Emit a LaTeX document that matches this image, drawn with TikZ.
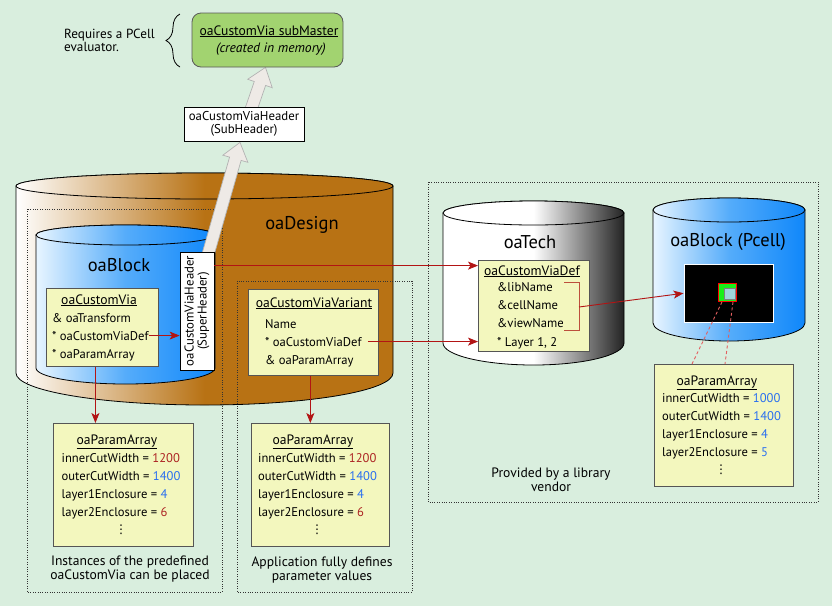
\documentclass[tikz,border=0pt]{standalone}
\usepackage{fontspec}
\setmainfont{PT Sans}
\newfontfamily\dotsfont{DejaVu Sans}
\usepackage{tikz}
\usetikzlibrary{arrows.meta,calc,decorations.pathreplacing}

\definecolor{bgmint}{RGB}{217,238,222}
\definecolor{dsgbrown}{RGB}{184,114,20}
\definecolor{blkblue}{RGB}{15,135,250}
\definecolor{blkmid}{RGB}{85,172,250}
\definecolor{blklight}{RGB}{232,245,255}
\definecolor{techdark}{RGB}{35,35,35}
\definecolor{boxyellow}{RGB}{243,247,190}
\definecolor{boxedge}{RGB}{85,85,85}
\definecolor{linkred}{RGB}{178,20,20}
\definecolor{brkred}{RGB}{188,80,60}
\definecolor{valred}{RGB}{172,35,35}
\definecolor{valblue}{RGB}{40,110,240}
\definecolor{mastergreen}{RGB}{162,211,112}
\definecolor{hollowgray}{RGB}{238,234,230}
\definecolor{viagreen}{RGB}{25,240,25}
\definecolor{cutcyan}{RGB}{160,212,220}
\definecolor{dashpink}{RGB}{228,95,95}

\pgfdeclarelayer{base}
\pgfdeclarelayer{mid}
\pgfsetlayers{base,mid,main}

\begin{document}
\begin{tikzpicture}[
    x=1pt, y=1pt,
    font=\fontsize{12.6}{14}\selectfont,
    yelbox/.style  ={draw=boxedge, line width=0.9pt, fill=boxyellow, anchor=north west, inner sep=0pt},
    hdrbox/.style  ={draw=black, line width=0.8pt, fill=white, inner sep=0pt, align=center, font=\fontsize{12.8}{13.5}\selectfont},
    field/.style   ={anchor=base west, inner sep=0pt},
    boxttl/.style  ={anchor=base, inner sep=0pt, font=\fontsize{13.6}{14}\selectfont},
    vdotsmark/.style={inner sep=0pt, font=\fontsize{12}{12}\dotsfont},
    remark/.style  ={align=center, inner sep=0pt, font=\fontsize{13.6}{14}\selectfont},
    cyllbl/.style  ={anchor=base, inner sep=0pt, font=\fontsize{18.5}{20}\selectfont},
    cylout/.style  ={draw=black, line width=0.8pt},
    browncyl/.style={cylout, left color=white, right color=dsgbrown, middle color=dsgbrown},
    bluecyl/.style ={cylout, left color=blklight, right color=blkblue, middle color=blkmid},
    graycyl/.style ={cylout, left color=white, right color=techdark, middle color=white},
    dotbox/.style  ={draw=black!80, line width=0.7pt, dash pattern=on 0.8pt off 1.6pt},
    link/.style    ={draw=linkred, line width=0.9pt, -{Stealth[length=10pt,width=8pt,inset=2.5pt]}},
    fatarrow/.style={draw=gray!60, line width=0.7pt, fill=hollowgray},
    pinkdash/.style={draw=dashpink, line width=0.9pt, dash pattern=on 3pt off 2.5pt},
  ]
  \begin{pgfonlayer}{base}
  \useasboundingbox (0,0) rectangle (832,-606);
  \fill[bgmint] (0,0) rectangle (832,-606);
  % oaDesign database
  \draw[browncyl] (16,-186) -- (16,-373)
    arc[start angle=180, end angle=360, x radius=188.5, y radius=32] -- (393,-186)
    arc[start angle=0, end angle=180, x radius=188.5, y radius=13] -- cycle;
  \draw[browncyl] (204.5,-186) ellipse[x radius=188.5, y radius=13];
  % dotted groups
  \draw[dotbox] (27,-209) rectangle (222,-592);
  \draw[dotbox] (237,-281) rectangle (412,-592);
  \draw[dotbox] (428,-182) rectangle (818,-502);
  % oaBlock inside the design
  \draw[bluecyl] (36,-235) -- (36,-368)
    arc[start angle=180, end angle=360, x radius=89.5, y radius=16] -- (215,-235)
    arc[start angle=0, end angle=180, x radius=89.5, y radius=10] -- cycle;
  \draw[bluecyl] (125.5,-235) ellipse[x radius=89.5, y radius=10];
  % oaTech
  \draw[graycyl] (443,-213) -- (443,-343)
    arc[start angle=180, end angle=360, x radius=90.5, y radius=22] -- (624,-213)
    arc[start angle=0, end angle=180, x radius=90.5, y radius=12] -- cycle;
  \draw[graycyl] (533.5,-213) ellipse[x radius=90.5, y radius=12];
  % oaBlock (Pcell)
  \draw[bluecyl] (653,-210) -- (653,-323)
    arc[start angle=180, end angle=360, x radius=76, y radius=18] -- (805,-210)
    arc[start angle=0, end angle=180, x radius=76, y radius=12] -- cycle;
  \draw[bluecyl] (729,-210) ellipse[x radius=76, y radius=12];
  \end{pgfonlayer}

  \node[cyllbl] (dsg-lbl)  at (302,-229) {oaDesign};
  \node[cyllbl] (blk-lbl)  at (119,-271) {oaBlock};
  \node[cyllbl] (tech-lbl) at (530,-248) {oaTech};
  \node[cyllbl] (pc-lbl)   at (728,-246) {oaBlock (Pcell)};

  % submaster and headers
  \node[draw=gray!70!black, line width=0.8pt, fill=mastergreen, rounded corners=9pt,
        minimum width=151pt, minimum height=54pt] (submaster) at (267.5,-40) {};
  \node[boxttl] (sm-ttl) at (269,-35) {\underline{oaCustomVia subMaster}};
  \node[boxttl] (sm-mem) at (271,-52) {\textit{(created in memory)}};
  \draw[line width=0.8pt, decorate, decoration={brace, amplitude=14pt}] (180,-67) -- (180,-14);
  \node[anchor=west, align=left, inner sep=0pt, font=\fontsize{13.2}{13.4}\selectfont] (req) at (64,-40.5) {Requires a PCell\\evaluator.};
  \node[hdrbox, minimum width=120pt, minimum height=34pt] (subhdr) at (244,-124) {oaCustomViaHeader\\(SubHeader)};
  \node[hdrbox, minimum width=34pt, minimum height=118pt] (super) at (197,-311) {};
  \node[rotate=90, align=center, inner sep=0pt, font=\fontsize{12.8}{13}\selectfont] (super-lbl) at (super.center) {oaCustomViaHeader\\(SuperHeader)};

  % oaCustomVia instance
  \node[yelbox, minimum width=112pt, minimum height=78pt] (cvbox) at (46,-288) {};
  \node[boxttl] (cv-ttl) at (99,-304) {\underline{oaCustomVia}};
  \node[field] (cv-xf)  at (52,-322) {\& oaTransform};
  \node[field] (cv-def) at (52,-340) {* oaCustomViaDef};
  \node[field] (cv-par) at (52,-358) {* oaParamArray};

  % oaCustomViaVariant
  \node[yelbox, minimum width=130pt, minimum height=86pt] (varbox) at (248,-289) {};
  \node[boxttl] (var-ttl)  at (314,-307) {\underline{oaCustomViaVariant}};
  \node[field]  (var-name) at (265,-328) {Name};
  \node[field]  (var-def)  at (265,-346) {* oaCustomViaDef};
  \node[field]  (var-par)  at (265,-364) {\& oaParamArray};

  % parameter arrays
  \node[yelbox, minimum width=140pt, minimum height=123pt] (parL) at (53,-423) {};
  \node[boxttl] (parL-ttl) at (117,-444) {\underline{oaParamArray}};
  \node[field] (parL-a) at (61.5,-462) {innerCutWidth = \textcolor{valred}{1200}};
  \node[field] (parL-b) at (61.5,-480) {outerCutWidth = \textcolor{valblue}{1400}};
  \node[field] (parL-c) at (61.5,-498) {layer1Enclosure = \textcolor{valblue}{4}};
  \node[field] (parL-d) at (61.5,-516) {layer2Enclosure = \textcolor{valred}{6}};
  \node[vdotsmark] (parL-dots) at (121,-530) {⋮};

  \node[yelbox, minimum width=138pt, minimum height=123pt] (parM) at (251,-423) {};
  \node[boxttl] (parM-ttl) at (313,-444) {\underline{oaParamArray}};
  \node[field] (parM-a) at (258,-462) {innerCutWidth = \textcolor{valred}{1200}};
  \node[field] (parM-b) at (258,-480) {outerCutWidth = \textcolor{valblue}{1400}};
  \node[field] (parM-c) at (258,-498) {layer1Enclosure = \textcolor{valblue}{4}};
  \node[field] (parM-d) at (258,-516) {layer2Enclosure = \textcolor{valred}{6}};
  \node[vdotsmark] (parM-dots) at (317,-530) {⋮};

  \node[yelbox, minimum width=139pt, minimum height=122pt] (parR) at (654,-364) {};
  \node[boxttl] (parR-ttl) at (717,-385) {\underline{oaParamArray}};
  \node[field] (parR-a) at (662,-402.5) {innerCutWidth = \textcolor{valblue}{1000}};
  \node[field] (parR-b) at (662,-420.5) {outerCutWidth = \textcolor{valblue}{1400}};
  \node[field] (parR-c) at (662,-438.5) {layer1Enclosure = \textcolor{valblue}{4}};
  \node[field] (parR-d) at (662,-456.5) {layer2Enclosure = \textcolor{valblue}{5}};
  \node[vdotsmark] (parR-dots) at (721,-470) {⋮};

  % oaCustomViaDef in the tech
  \node[yelbox, minimum width=111pt, minimum height=91pt] (techdef) at (478,-260) {};
  \node[boxttl] (td-ttl)  at (532,-275) {\underline{oaCustomViaDef}};
  \node[field]  (td-lib)  at (497,-291.5) {\&libName};
  \node[field]  (td-cell) at (497,-309.5) {\&cellName};
  \node[field]  (td-view) at (497,-327.5) {\&viewName};
  \node[field]  (td-lay)  at (497,-346) {* Layer 1, 2};

  % pcell layout picture
  \node[draw=white, line width=1.5pt, fill=black, minimum width=89pt, minimum height=58pt,
        inner sep=0pt, anchor=north west] (pimg) at (683.5,-263.5) {};
  \node[draw=red, line width=0.8pt, fill=viagreen, minimum size=18pt, inner sep=0pt] (via) at (727.5,-292.5) {};
  \node[draw=gray, line width=0.6pt, fill=cutcyan, minimum size=11pt, inner sep=0pt] (viacut) at (729.5,-293.5) {};

  % captions
  \node[remark] (cap-inst) at (130,-569) {Instances of the predefined\\oaCustomVia can be placed};
  \node[remark] (cap-app)  at (322,-570) {Application fully defines\\parameter values};
  \node[remark] (cap-vend) at (551,-480) {Provided by a library\\vendor};

  % hollow arrows behind the header boxes
  \begin{pgfonlayer}{mid}
  \coordinate (fa1-tail) at ($(super.north)+(9,-10)$);
  \coordinate (fa1-tip)  at ($(subhdr.south)+(-4,-1)$);
  \coordinate (fa1-neck) at ($(fa1-tip)!17pt!(fa1-tail)$);
  \filldraw[fatarrow] ($(fa1-tail)!6pt!90:(fa1-tip)$) -- ($(fa1-neck)!6pt!90:(fa1-tip)$)
    -- ($(fa1-neck)!13pt!90:(fa1-tip)$) -- (fa1-tip) -- ($(fa1-neck)!13pt!-90:(fa1-tip)$)
    -- ($(fa1-neck)!6pt!-90:(fa1-tip)$) -- ($(fa1-tail)!6pt!-90:(fa1-tip)$) -- cycle;
  \coordinate (fa2-tail) at ($(subhdr.center)+(2,0)$);
  \coordinate (fa2-tip)  at ($(submaster.south)+(-2,0)$);
  \coordinate (fa2-neck) at ($(fa2-tip)!17pt!(fa2-tail)$);
  \filldraw[fatarrow] ($(fa2-tail)!6pt!90:(fa2-tip)$) -- ($(fa2-neck)!6pt!90:(fa2-tip)$)
    -- ($(fa2-neck)!13pt!90:(fa2-tip)$) -- (fa2-tip) -- ($(fa2-neck)!13pt!-90:(fa2-tip)$)
    -- ($(fa2-neck)!6pt!-90:(fa2-tip)$) -- ($(fa2-tail)!6pt!-90:(fa2-tip)$) -- cycle;
  \end{pgfonlayer}

  % red references
  \draw[link] (cv-def.east) -- (cv-def.east -| super.west);
  \coordinate (hdr-out) at ($(super.north east)+(0,-14)$);
  \draw[link] (hdr-out) -- (hdr-out -| techdef.west);
  \draw[link, shorten <=6pt] (var-def.east) -- (var-def.east -| techdef.west);
  \draw[link] ([xshift=2pt]cv-par.south |- cvbox.south) -- ([xshift=2pt]cv-par.south |- parL.north);
  \draw[link] ([xshift=1pt]var-par.south |- varbox.south) -- ([xshift=1pt]var-par.south |- parM.north);
  \draw[brkred, line width=0.9pt] (564,-282) -- (579,-282) -- (579,-330) -- (564,-330);
  \coordinate (brk-mid) at (579,-307);
  \draw[link] (brk-mid) -- (pimg.west);
  \draw[pinkdash] ($(via.south)+(-5.5,0)$) -- ($(parR.north west)+(38,0)$);
  \draw[pinkdash] ($(via.south)+(5.5,0)$) -- ($(parR.north west)+(71,0)$);
\end{tikzpicture}
\end{document}
